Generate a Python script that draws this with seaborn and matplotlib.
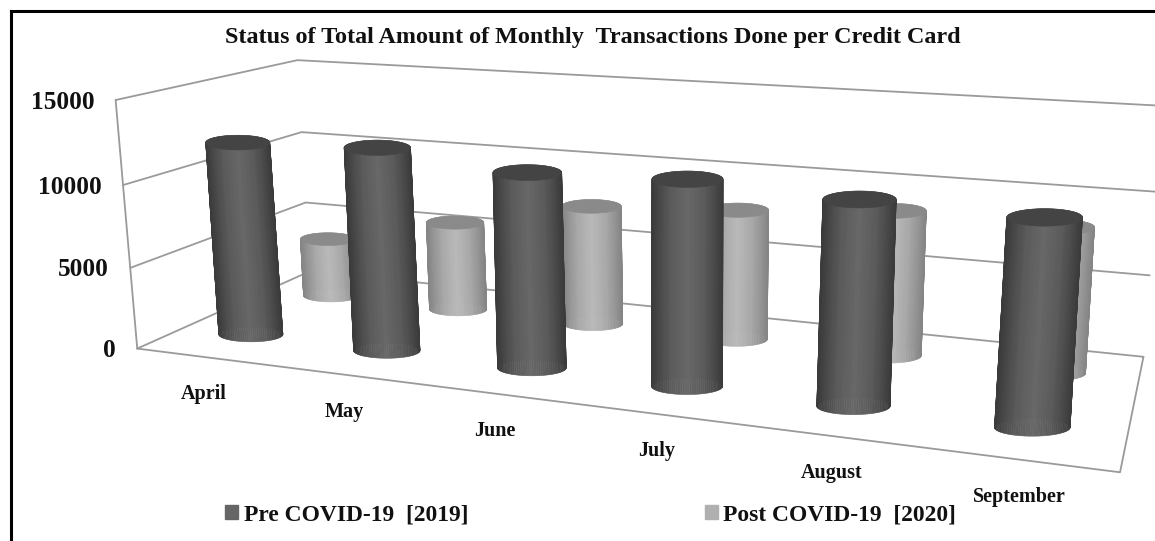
import numpy as np
import seaborn as sns
import matplotlib
matplotlib.use('Agg')
import matplotlib.pyplot as plt
from matplotlib.patches import Patch

months = ['April', 'May', 'June', 'July', 'August', 'September']
pre_2019 = [12000, 12300, 11500, 11800, 11400, 11200]
post_2020 = [3900, 5800, 7600, 8100, 8800, 8600]
value_ticks = [0, 5000, 10000, 15000]
series_names = ['Pre COVID-19  [2019]', 'Post COVID-19  [2020]']
title = 'Status of Total Amount of Monthly  Transactions Done per Credit Card'

W, H = 1155, 541
serif = 'Liberation Serif'

# camera: box corners (month, depth, value as 0-1) and where they sit in the picture
box = [(0, 0, 0), (1, 0, 0), (1, 1, 0), (0, 1, 0), (0, 0, 1), (0, 1, 1), (1, 1, 1)]
pix = [(135, 348), (1120, 473), (1143, 356), (312, 272), (118, 100), (295, 60), (1163, 106)]

rows = []
for (a, b, c), (u, v) in zip(box, pix):
    rows.append([a, b, c, 1, 0, 0, 0, 0, -u * a, -u * b, -u * c, -u])
    rows.append([0, 0, 0, 0, a, b, c, 1, -v * a, -v * b, -v * c, -v])
cam = np.linalg.svd(np.array(rows, dtype=float))[2][-1].reshape(3, 4)


def project(m, d, z):
    m, d, z = np.broadcast_arrays(m, d, z)
    p = np.stack([m, d, z, np.ones_like(m, dtype=float)])
    q = cam @ p.reshape(4, -1)
    return (q[0] / q[2]).reshape(m.shape), (q[1] / q[2]).reshape(m.shape)


def cylinder(ax, i, depth, value, body, top, a0, grow):
    cm = (i + 0.5) / len(months)
    z = value / 15000
    # rims stay level as in the original, width grows a little to the right
    a = a0 * (1 + grow * cm)
    b = a * 0.23
    t = np.linspace(0, 2 * np.pi, 97)
    x0, y0 = project(cm, depth, 0.0)
    x1, y1 = project(cm, depth, z)
    xb, yb = x0 + a * np.cos(t), y0 + b * np.sin(t)
    xt, yt = x1 + a * np.cos(t), y1 + b * np.sin(t)
    mid = (t[:-1] + t[1:]) / 2
    # y runs downwards: sin > 0 is the near side, paint it last
    for k in np.argsort(np.sin(mid)):
        shade = body[int((1 - abs(np.cos(mid[k]))) * (len(body) - 1))]
        ax.fill([xb[k], xb[k + 1], xt[k + 1], xt[k]], [yb[k], yb[k + 1], yt[k + 1], yt[k]],
                color=shade, lw=0.4, zorder=3)
    ax.fill(xt, yt, color=top, lw=0.4, zorder=3)


sns.set_theme(style='white')
plt.rcParams['font.family'] = [serif, 'DejaVu Serif']

fig = plt.figure(figsize=(W / 100, H / 100), dpi=100)
ax = fig.add_axes([11 / W, 0, 1 - 11 / W, 1 - 11 / H])
grid_col = '#9a9a9a'

# walls and floor outline
for v in value_ticks:
    z = v / 15000
    xs, ys = project(np.array([0, 0, 1.0]), np.array([0, 1, 1.0]), z)
    sns.lineplot(x=xs, y=ys, sort=False, estimator=None, color=grid_col, lw=1.3, ax=ax, zorder=1)
xs, ys = project(0.0, 0.0, np.array([0, 1.0]))
sns.lineplot(x=xs, y=ys, sort=False, estimator=None, color=grid_col, lw=1.3, ax=ax, zorder=1)
xs, ys = project(np.array([0, 1, 1.0]), np.array([0, 0, 1.0]), 0.0)
sns.lineplot(x=xs, y=ys, sort=False, estimator=None, color=grid_col, lw=1.3, ax=ax, zorder=1)

dark_body = sns.blend_palette(['#3b3b3b', '#5a5a5a', '#686868'], 24)
light_body = sns.blend_palette(['#858585', '#a8a8a8', '#bababa'], 24)

for i, v in enumerate(post_2020):
    cylinder(ax, i, 0.74, v, light_body, '#8a8a8a', 27, 0.25)
for i, v in enumerate(pre_2019):
    cylinder(ax, i, 0.25, v, dark_body, '#444444', 31.5, 0.22)

for v in value_ticks:
    x, y = project(0.0, 0.0, v / 15000)
    ax.text(x - 21, y + 2, str(v), ha='right', va='center', fontsize=18.3, fontweight='bold', color='#111111')

for i, name in enumerate(months):
    x, y = project((i + 0.5) / len(months), 0.0, 0.0)
    ax.text(x - 1, y + 37, name, ha='center', va='center', fontsize=14.5, fontweight='bold', color='#111111')

ax.text(593, 37, title, ha='center', va='center', fontsize=17.4, fontweight='bold', color='#111111')

handles = [Patch(color='#666666', label=series_names[0]), Patch(color='#b0b0b0', label=series_names[1])]
ax.legend(handles=handles, ncol=2, frameon=False, loc='lower left', bbox_to_anchor=(0.169, -0.011),
          prop={'family': serif, 'weight': 'bold', 'size': 16.9}, handlelength=0.55, handleheight=0.55,
          handletextpad=0.25, columnspacing=10.05, labelcolor='#111111')

ax.set_xlim(11, W)
ax.set_ylim(H, 11)
ax.set_xticks([])
ax.set_yticks([])
ax.set_xlabel('')
ax.set_ylabel('')
sns.despine(ax=ax, top=False, left=False, right=True, bottom=True)
ax.spines['top'].set_color('black')
ax.spines['left'].set_color('black')
ax.spines['top'].set_linewidth(2.2)
ax.spines['left'].set_linewidth(2.2)
ax.set_facecolor('white')
fig.savefig('out.png', dpi=100)
